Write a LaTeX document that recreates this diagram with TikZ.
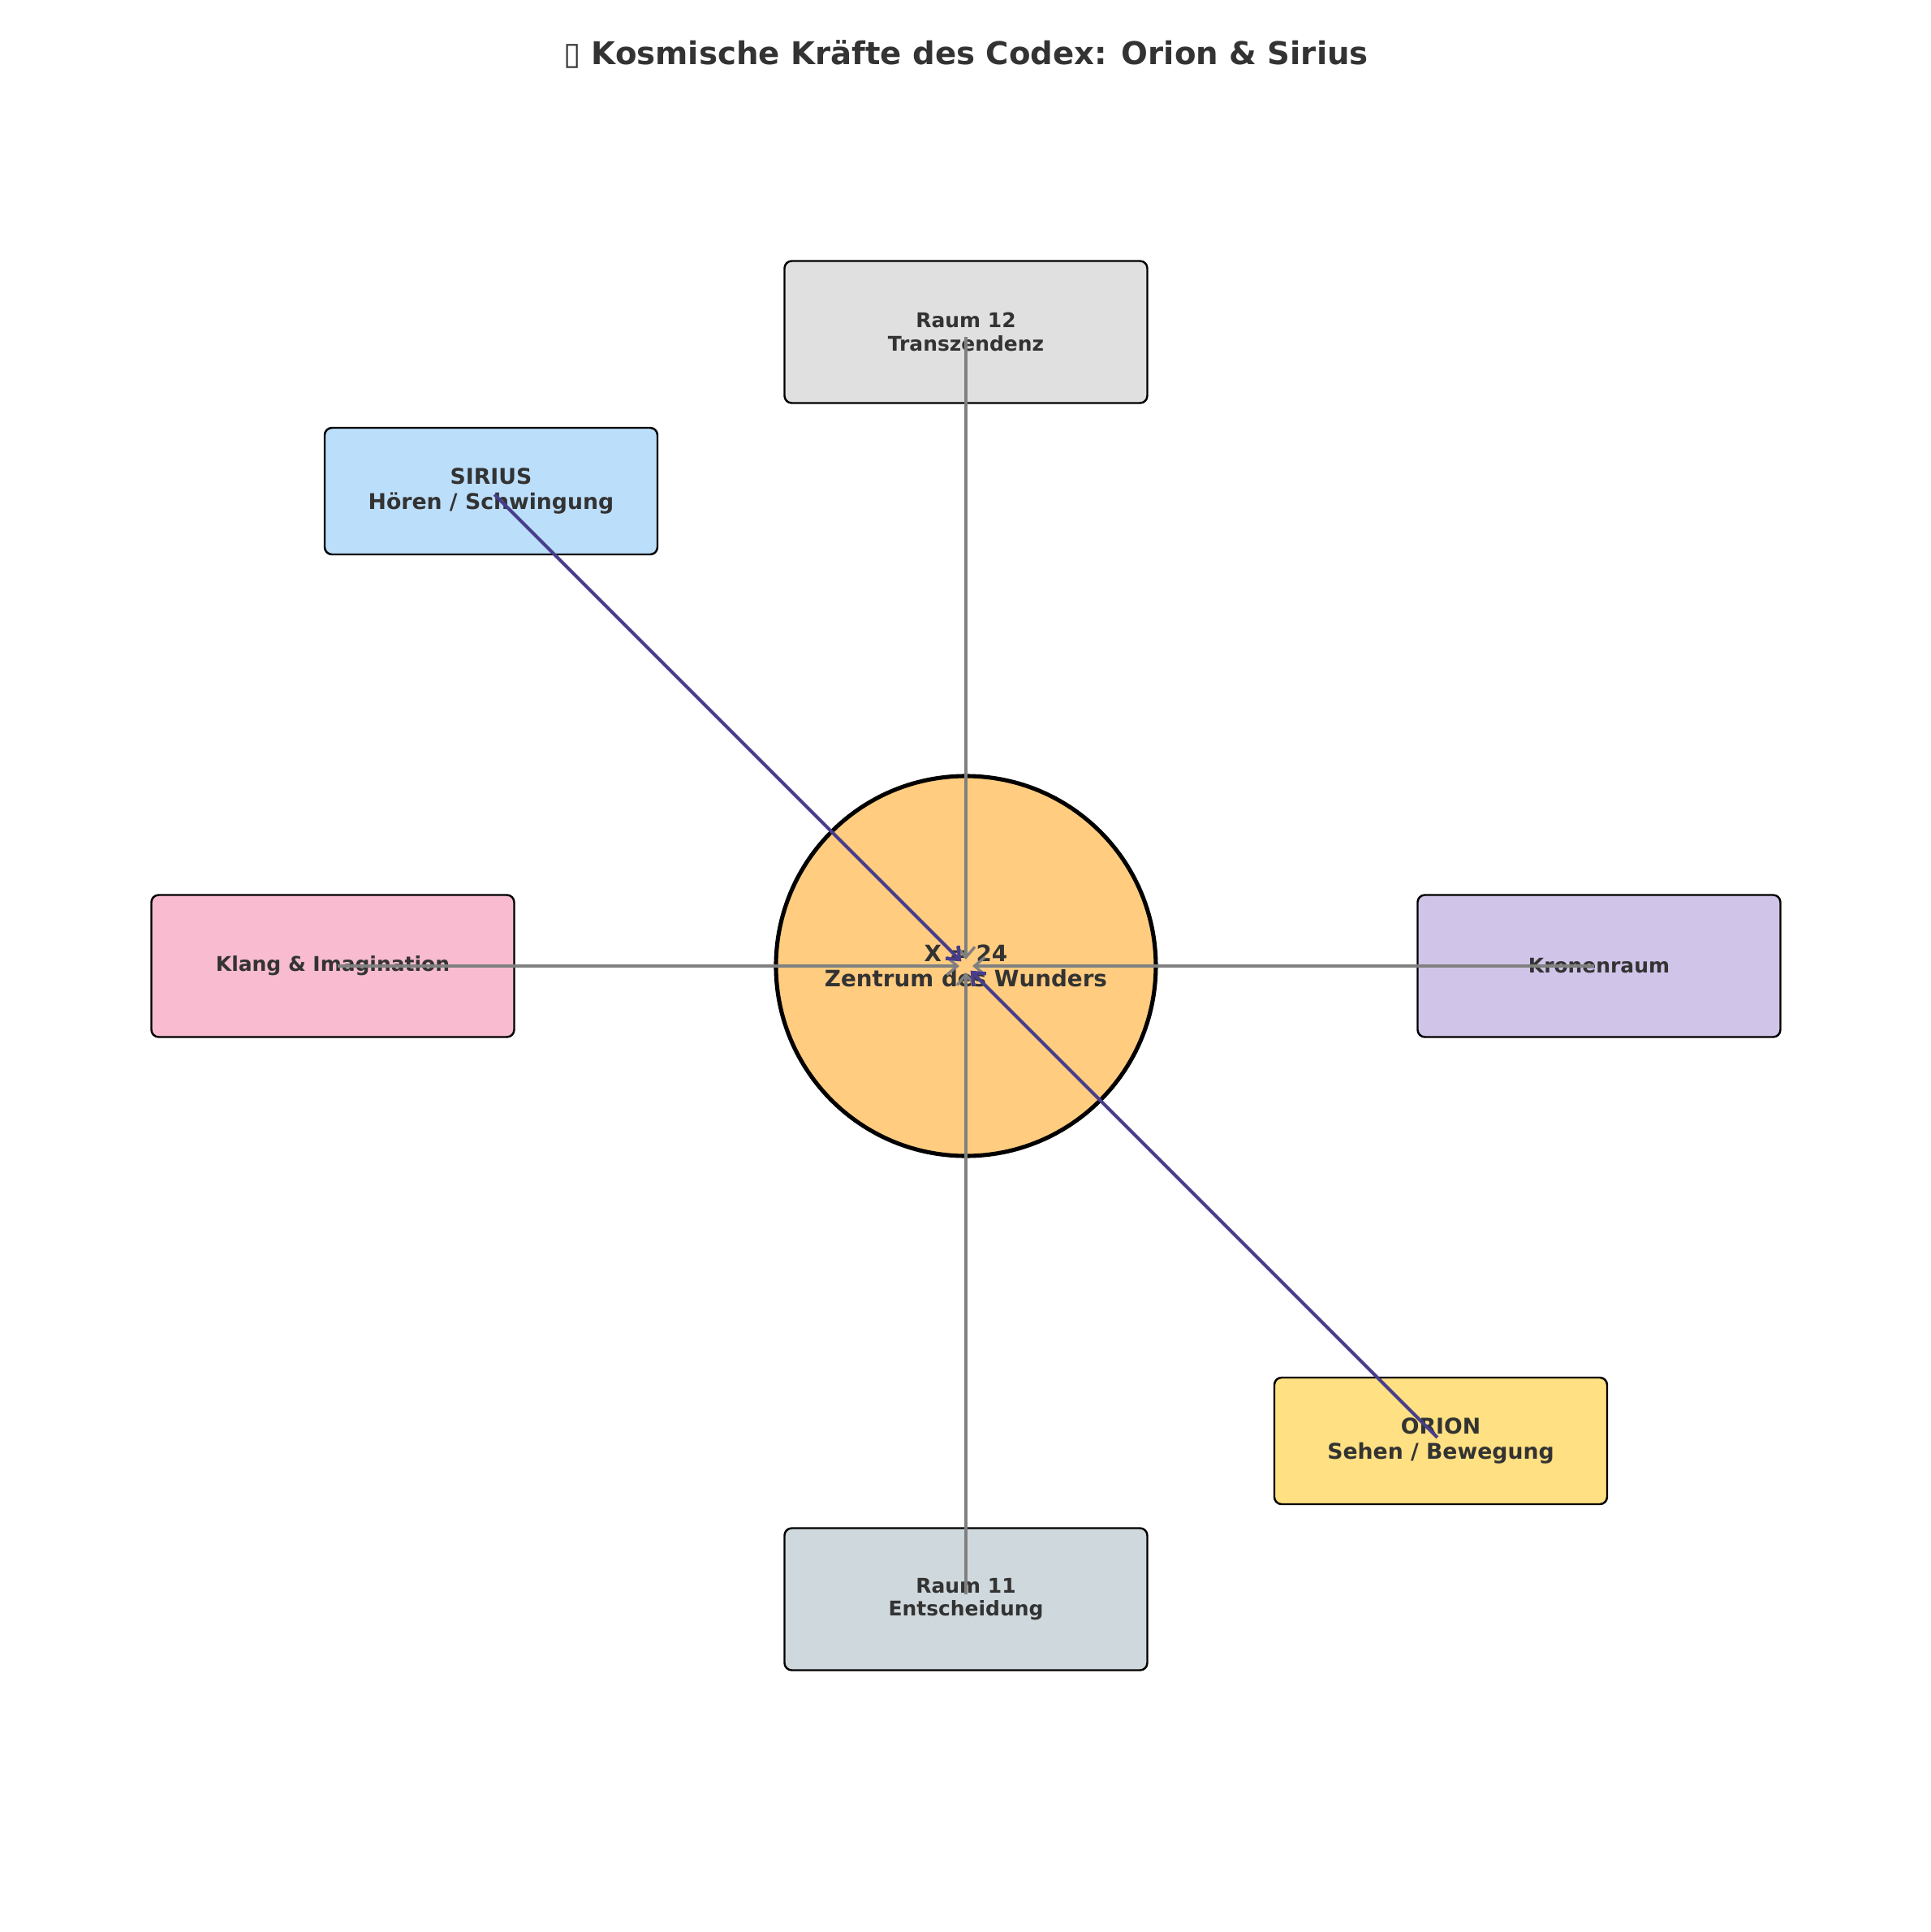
\documentclass[tikz,border=0pt]{standalone}
\usepackage{fontspec}
\setmainfont{DejaVu Sans}
\usepackage{xcolor}
\usetikzlibrary{arrows.meta}

\definecolor{inktext}{HTML}{333333}
\definecolor{raumgrau}{HTML}{E0E0E0}
\definecolor{raumblau}{HTML}{CFD8DC}
\definecolor{siriusblau}{HTML}{BBDEFB}
\definecolor{klangrosa}{HTML}{F8BBD0}
\definecolor{kronelila}{HTML}{D1C4E9}
\definecolor{oriongelb}{HTML}{FFE082}
\definecolor{kernorange}{HTML}{FFCC80}
\definecolor{sternlinie}{HTML}{483D8B}

\begin{document}
\begin{tikzpicture}[
  room/.style={
    draw, rounded corners=0.9mm, line width=0.7pt,
    minimum width=4.47cm, minimum height=1.75cm,
    font=\fontsize{7.1}{8.2}\selectfont\bfseries, align=center,
    text=inktext
  },
  starbox/.style={
    room, minimum width=4.10cm, minimum height=1.56cm,
    font=\fontsize{7.6}{8.6}\selectfont\bfseries
  },
  link/.style={
    -{Straight Barb[length=1.3mm,width=2.2mm]}, gray,
    line width=0.95pt, shorten >=0.8mm, shorten <=0.6mm
  },
  starlink/.style={link, sternlinie, line width=1.2pt},
]
\useasboundingbox (-11.90,-11.90) rectangle (11.89,11.90);

% title
\node[font=\fontsize{11}{13}\selectfont\bfseries,text=inktext]
  (title) at (0,11.23) {▯ Kosmische Kräfte des Codex: Orion \& Sirius};

% centre of the codex
\node[circle, draw, line width=1.45pt, fill=kernorange, minimum size=4.68cm,
  font=\fontsize{7.9}{8.8}\selectfont\bfseries, text=inktext, align=center]
  (core) at (0,0) {X = 24\\Zentrum des Wunders};

% rooms round the centre
\node[room,fill=raumgrau]  (raumB) at (0,7.81)  {Raum 12\\Transzendenz};
\node[room,fill=raumblau]  (raumA) at (0,-7.80) {Raum 11\\Entscheidung};
\node[room,fill=klangrosa] (klang) at (-7.80,0) {Klang \& Imagination};
\node[room,fill=kronelila] (krone) at (7.80,0)  {Kronenraum};

% the two stars
\node[starbox,fill=siriusblau] (sirius) at (-5.85,5.85)
  {SIRIUS\\Hören / Schwingung};
\node[starbox,fill=oriongelb]  (orion)  at (5.85,-5.85)
  {ORION\\Sehen / Bewegung};

% connectors into the centre
\foreach \n in {raumB,raumA,klang,krone}
  \draw[link] (\n.center) -- (core.center);
\foreach \n in {sirius,orion}
  \draw[starlink] (\n.center) -- (core.center);
\end{tikzpicture}
\end{document}
